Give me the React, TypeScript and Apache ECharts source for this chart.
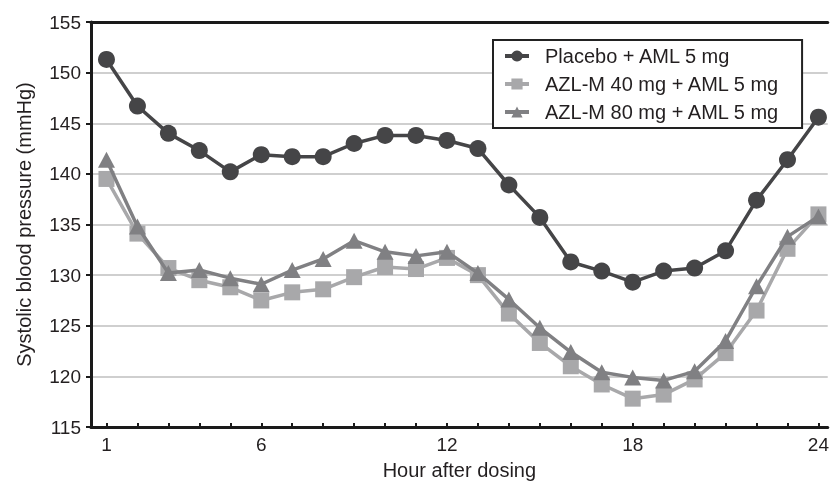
import React, { useEffect, useRef } from "react";
import * as echarts from "echarts";

const hours = [1, 2, 3, 4, 5, 6, 7, 8, 9, 10, 11, 12, 13, 14, 15, 16, 17, 18, 19, 20, 21, 22, 23, 24];
const placebo = [151.3, 146.7, 144.0, 142.3, 140.2, 141.9, 141.7, 141.7, 143.0, 143.8, 143.8, 143.3, 142.5, 138.9, 135.7, 131.3, 130.4, 129.3, 130.4, 130.7, 132.4, 137.4, 141.4, 145.6];
const azl40 = [139.5, 134.1, 130.7, 129.5, 128.8, 127.5, 128.3, 128.6, 129.8, 130.8, 130.6, 131.7, 130.0, 126.2, 123.3, 121.0, 119.2, 117.8, 118.2, 119.7, 122.3, 126.5, 132.6, 136.0];
const azl80 = [141.4, 134.8, 130.2, 130.5, 129.7, 129.1, 130.5, 131.6, 133.4, 132.3, 131.9, 132.3, 130.2, 127.6, 124.8, 122.4, 120.4, 119.9, 119.6, 120.5, 123.5, 128.9, 133.8, 135.8];
const xLabelValues = [1, 6, 12, 18, 24];
const seriesNames = ["Placebo + AML 5 mg", "AZL-M 40 mg + AML 5 mg", "AZL-M 80 mg + AML 5 mg"];

const FONT = "'Liberation Sans', Arial, sans-serif";
const TXT = "#231f20";

export default function App() {
  const ref = useRef<HTMLDivElement>(null);
  useEffect(() => {
    if (!ref.current) return;
    const chart = echarts.init(ref.current, undefined, { renderer: "svg" });
    const pairs = (arr: number[]) => hours.map((h, i) => [h, arr[i]]);
    chart.setOption({
      animation: false,
      textStyle: { fontFamily: FONT, color: TXT },
      grid: { left: 91, right: 0, top: 22, bottom: 57 },
      legend: {
        orient: "vertical",
        left: 493,
        top: 40,
        padding: [6, 22, 6, 10],
        itemGap: 8,
        itemWidth: 24,
        itemHeight: 14,
        backgroundColor: "#ffffff",
        borderColor: "#222222",
        borderWidth: 2,
        borderRadius: 0,
        lineStyle: { width: 4 },
        textStyle: { fontSize: 20, color: TXT, fontFamily: FONT, padding: [0, 0, 0, 11] },
        data: seriesNames,
      },
      xAxis: [
        {
          type: "value",
          min: 0.5,
          max: 24.3,
          name: "Hour after dosing",
          nameLocation: "middle",
          nameGap: 33,
          nameTextStyle: { fontSize: 20, color: TXT, fontFamily: FONT },
          axisLine: { show: true, lineStyle: { color: "#1a1a1a", width: 3 } },
          axisTick: { show: true, inside: true, length: 4, customValues: hours, lineStyle: { color: "#1a1a1a", width: 2 } },
          axisLabel: { customValues: xLabelValues, fontSize: 19, color: TXT, margin: 8, fontFamily: FONT },
          splitLine: { show: false },
        },
        {
          type: "value",
          position: "top",
          min: 0.5,
          max: 24.3,
          axisLine: { show: true, lineStyle: { color: "#1a1a1a", width: 3 } },
          axisTick: { show: false },
          axisLabel: { show: false },
          splitLine: { show: false },
        },
      ],
      yAxis: {
        type: "value",
        min: 115,
        max: 155,
        interval: 5,
        name: "Systolic blood pressure (mmHg)",
        nameLocation: "middle",
        nameGap: 57,
        nameTextStyle: { fontSize: 20, color: TXT, fontFamily: FONT },
        axisLine: { show: true, lineStyle: { color: "#1a1a1a", width: 3 } },
        axisTick: { show: true, length: 5, lineStyle: { color: "#1a1a1a", width: 2 } },
        axisLabel: { fontSize: 19, color: TXT, margin: 10, fontFamily: FONT },
        splitLine: { show: true, showMinLine: false, showMaxLine: false, lineStyle: { color: "#cfcfcf", width: 2 } },
      },
      series: [
        {
          name: seriesNames[0],
          type: "line",
          data: pairs(placebo),
          symbol: "circle",
          symbolSize: 17,
          lineStyle: { color: "#454547", width: 3.5 },
          itemStyle: { color: "#454547" },
          z: 4,
        },
        {
          name: seriesNames[1],
          type: "line",
          data: pairs(azl40),
          symbol: "rect",
          symbolSize: 16,
          lineStyle: { color: "#a8a8aa", width: 3.5 },
          itemStyle: { color: "#a8a8aa" },
          z: 2,
        },
        {
          name: seriesNames[2],
          type: "line",
          data: pairs(azl80),
          symbol: "triangle",
          symbolSize: [17, 16],
          lineStyle: { color: "#808083", width: 3.5 },
          itemStyle: { color: "#808083" },
          z: 3,
        },
      ],
    });
    return () => chart.dispose();
  }, []);
  return <div ref={ref} style={{ position: "fixed", left: 0, top: 0, width: 832, height: 485 }} />;
}
